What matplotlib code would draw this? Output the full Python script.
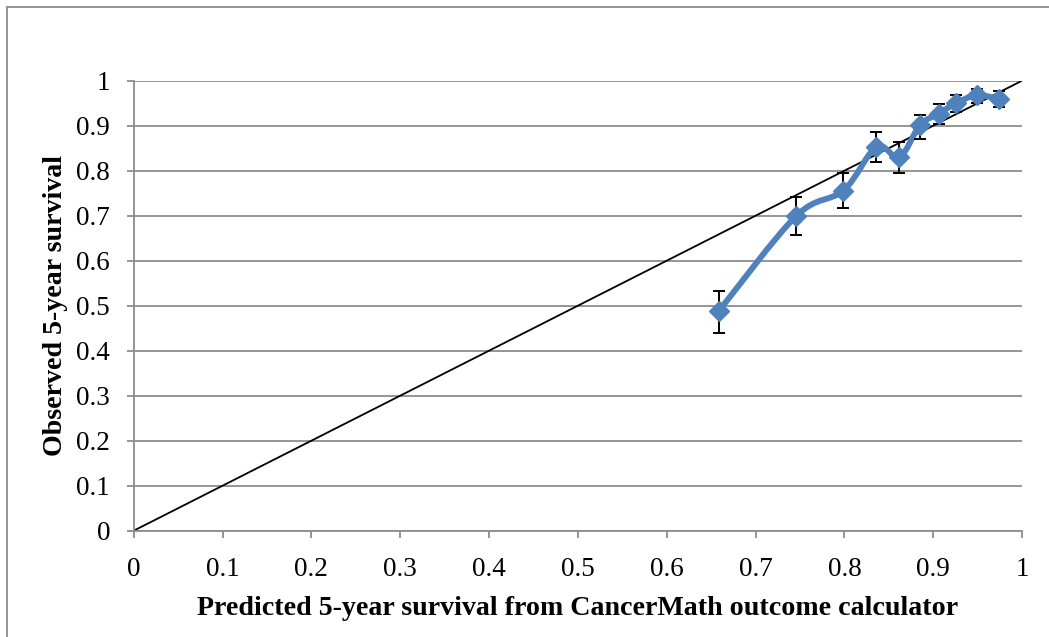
import numpy as np
import matplotlib
matplotlib.use("Agg")
import matplotlib.pyplot as plt
from matplotlib.path import Path
from matplotlib.patches import PathPatch, Rectangle

predicted = [0.659, 0.746, 0.799, 0.836, 0.862, 0.885, 0.906, 0.926, 0.949, 0.974]
observed = [0.489, 0.700, 0.756, 0.853, 0.830, 0.901, 0.927, 0.950, 0.968, 0.959]
err_upper = [0.533, 0.742, 0.794, 0.886, 0.864, 0.924, 0.949, 0.969, 0.981, 0.978]
err_lower = [0.440, 0.658, 0.718, 0.819, 0.796, 0.870, 0.904, 0.930, 0.950, 0.941]
ref_line = [0, 1]
ticks = [0, 0.1, 0.2, 0.3, 0.4, 0.5, 0.6, 0.7, 0.8, 0.9, 1]
tick_labels = ["0", "0.1", "0.2", "0.3", "0.4", "0.5", "0.6", "0.7", "0.8", "0.9", "1"]

plt.rcParams['font.family'] = ['Liberation Serif', 'DejaVu Serif']

fig = plt.figure(figsize=(10.49, 6.37), dpi=100)
fig.patches.append(Rectangle((6.5/1049, -0.1), 1.2, 1.1 - 7/637, transform=fig.transFigure,
                             fill=False, edgecolor='#8c8c8c', linewidth=1.3))
ax = fig.add_axes([0.1275, 0.1669, 0.8468, 0.7064])

ax.set_xlim(0, 1)
ax.set_ylim(0, 1)
ax.set_xticks(ticks)
ax.set_xticklabels(tick_labels)
ax.set_yticks(ticks)
ax.set_yticklabels(tick_labels)
ax.yaxis.grid(True, color='#8c8c8c', linewidth=1.3)
ax.set_axisbelow(True)
for s in ['top', 'right']:
    ax.spines[s].set_visible(False)
for s in ['left', 'bottom']:
    ax.spines[s].set_color('#8c8c8c')
    ax.spines[s].set_linewidth(1.3)
ax.tick_params(axis='both', which='major', direction='out', length=5, width=1.3,
               color='#8c8c8c', labelsize=19.5, labelcolor='black')
ax.tick_params(axis='x', pad=14)
ax.tick_params(axis='y', pad=12)

ax.plot(ref_line, ref_line, color='black', linewidth=1.3, zorder=2)

# smoothed line (Catmull-Rom style cubic Bezier through the data points)
x = np.array(predicted)
y = np.array(observed)
n = len(x)
verts = [(x[0], y[0])]
codes = [Path.MOVETO]
t = 1.0 / 6.0
for i in range(n - 1):
    p0 = (x[i - 1], y[i - 1]) if i > 0 else (x[i], y[i])
    p1 = (x[i], y[i])
    p2 = (x[i + 1], y[i + 1])
    p3 = (x[i + 2], y[i + 2]) if i + 2 < n else (x[i + 1], y[i + 1])
    c1 = (p1[0] + (p2[0] - p0[0]) * t, p1[1] + (p2[1] - p0[1]) * t)
    c2 = (p2[0] - (p3[0] - p1[0]) * t, p2[1] - (p3[1] - p1[1]) * t)
    verts += [c1, c2, p2]
    codes += [Path.CURVE4] * 3
ax.add_patch(PathPatch(Path(verts, codes), facecolor='none', edgecolor='#4F81BD',
                       linewidth=4.3, capstyle='round', joinstyle='round', zorder=3))

yerr = [np.array(observed) - np.array(err_lower), np.array(err_upper) - np.array(observed)]
ax.errorbar(predicted, observed, yerr=yerr, fmt='none', ecolor='black',
            elinewidth=1.4, capsize=4.5, capthick=1.4, zorder=4)
ax.plot(predicted, observed, linestyle='none', marker='D', markersize=10.5,
        color='#4F81BD', markeredgecolor='#4F81BD', markeredgewidth=1, zorder=5)

ax.set_xlabel('Predicted 5-year survival from CancerMath outcome calculator',
              fontsize=20.2, fontweight='bold', labelpad=10)
ax.set_ylabel('Observed 5-year survival', fontsize=20.2, fontweight='bold', labelpad=6)

fig.savefig('out.png', dpi=100)
